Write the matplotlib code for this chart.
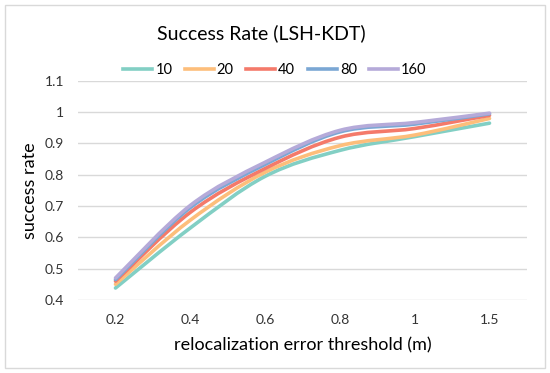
import matplotlib.pyplot as plt
from matplotlib.path import Path
from matplotlib.patches import PathPatch, Rectangle
from matplotlib.lines import Line2D

# data
thresholds = ['0.2', '0.4', '0.6', '0.8', '1', '1.5']
series_names = ['10', '20', '40', '80', '160']
rate_10 = [0.438, 0.630, 0.795, 0.878, 0.922, 0.965]
rate_20 = [0.450, 0.655, 0.808, 0.893, 0.927, 0.980]
rate_40 = [0.460, 0.680, 0.820, 0.920, 0.948, 0.990]
rate_80 = [0.465, 0.695, 0.833, 0.937, 0.962, 0.995]
rate_160 = [0.470, 0.702, 0.840, 0.942, 0.967, 0.997]
colors = ['#82cfc4', '#fdbe7b', '#f47a6a', '#7ba7d4', '#b5aad9']
yticks = [0.4, 0.5, 0.6, 0.7, 0.8, 0.9, 1.0, 1.1]
ytick_labels = ['0.4', '0.5', '0.6', '0.7', '0.8', '0.9', '1', '1.1']

plt.rcParams['font.family'] = ['Lato', 'DejaVu Sans']


def smooth_path(xs, ys, t=1/6):
    # excel-like smoothed line: catmull-rom segments as cubic beziers
    verts = [(xs[0], ys[0])]
    codes = [Path.MOVETO]
    n = len(xs)
    for i in range(n - 1):
        x0, y0 = (xs[i - 1], ys[i - 1]) if i > 0 else (xs[i], ys[i])
        x1, y1 = xs[i], ys[i]
        x2, y2 = xs[i + 1], ys[i + 1]
        x3, y3 = (xs[i + 2], ys[i + 2]) if i + 2 < n else (x2, y2)
        c1 = (x1 + (x2 - x0) * t, y1 + (y2 - y0) * t)
        c2 = (x2 - (x3 - x1) * t, y2 - (y3 - y1) * t)
        verts += [c1, c2, (x2, y2)]
        codes += [Path.CURVE4] * 3
    return Path(verts, codes)


fig = plt.figure(figsize=(5.5, 3.73), dpi=100)
ax = fig.add_axes([0.142, 0.196, 0.816, 0.587])

# light border around the whole chart
fig.patches.append(Rectangle((5 / 550, 5 / 373), 540 / 550, 363 / 373,
                             transform=fig.transFigure, fill=False,
                             edgecolor='#d9d9d9', linewidth=1))

xpos = list(range(len(thresholds)))
all_rates = [rate_10, rate_20, rate_40, rate_80, rate_160]
handles = []
for name, rates, c in zip(series_names, all_rates, colors):
    p = PathPatch(smooth_path(xpos, rates), facecolor='none', edgecolor=c,
                  linewidth=2.6, capstyle='round', joinstyle='round')
    ax.add_patch(p)
    handles.append(Line2D([], [], color=c, linewidth=2.6, label=name))

ax.set_xlim(-0.5, len(thresholds) - 0.5)
ax.set_ylim(0.4, 1.1)
ax.set_xticks(xpos)
ax.set_xticklabels(thresholds, fontsize=10)
ax.set_yticks(yticks)
ax.set_yticklabels(ytick_labels, fontsize=10)
ax.tick_params(length=0, pad=10, colors='#333333')
ax.yaxis.grid(True, color='#d9d9d9', linewidth=1)
ax.set_axisbelow(True)
for s in ax.spines.values():
    s.set_visible(False)

ax.set_xlabel('relocalization error threshold (m)', fontsize=13, labelpad=8)
ax.set_ylabel('success rate', fontsize=13, labelpad=5)

fig.text(0.475, 0.91, 'Success Rate (LSH-KDT)', ha='center', va='center', fontsize=14)
fig.legend(handles=handles, loc='center', bbox_to_anchor=(0.50, 0.812), ncol=5,
           frameon=False, fontsize=10.5, handlelength=2.0, handletextpad=0.2,
           columnspacing=0.85)

plt.savefig('out.png', dpi=100)
